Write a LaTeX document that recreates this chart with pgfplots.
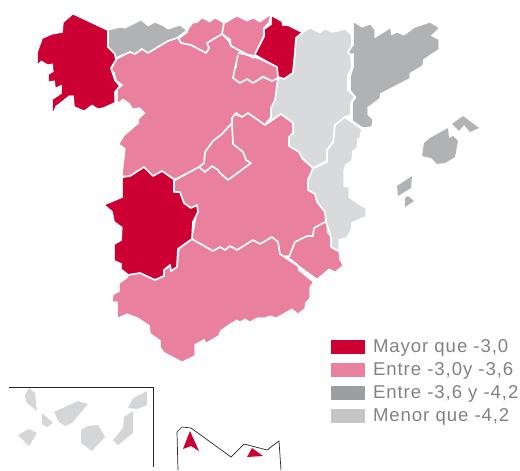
\documentclass[border=0pt]{standalone}
\usepackage{fontspec}
\setmainfont[LetterSpace=5]{Liberation Sans}
\usepackage{pgfplots}
\pgfplotsset{compat=1.18}
\definecolor{rojo}{HTML}{CC0033}
\definecolor{rosa}{HTML}{E8809E}
\definecolor{gris}{HTML}{B1B2B4}
\definecolor{claro}{HTML}{D9DADC}
\definecolor{isla}{HTML}{D5D6D8}
\definecolor{lgris}{HTML}{9D9EA0}
\definecolor{lclaro}{HTML}{C5C6C8}
\definecolor{texto}{HTML}{808285}
\tikzset{reg/.style={fill=#1,draw=#1,line width=0.5pt,line join=round},
  isl/.style={fill=#1,draw=none}}
\pgfplotsset{linde/.style={draw=white,line width=1.7pt,line join=round,forget plot}}
\begin{document}
\begin{tikzpicture}
\path[use as bounding box] (0,0) rectangle (520pt,471pt);
\begin{axis}[
  scale only axis, width=520pt, height=471pt,
  xmin=0, xmax=520, ymin=0, ymax=471, y dir=reverse,
  hide axis, clip=false,
  legend style={at={(axis cs:331,340)},anchor=north west,draw=none,fill=none,
    inner sep=0pt,outer sep=0pt,
    font=\fontsize{18.6}{20}\selectfont\color{texto},
    row sep=8.3pt,
    nodes={inner sep=0pt}},
  legend cell align=left,
  legend image code/.code={\fill[#1,draw=none] (0pt,-7pt) rectangle (34pt,7pt);},
]
% Galicia
\addplot[reg=rojo,forget plot] coordinates {(64,23)(73,15)(107,31)(108,48)(114,53)(115,60)(110,68)(115,82)(120,86)(114,92)(114,102)(103,107)(98,108)(92,104)(84,110)(75,106)(74,95)(69,95)(55,106)(53,111)(53,100)(62,94)(62,84)(56,87)(55,80)(49,81)(49,75)(54,72)(53,63)(48,64)(41,60)(38,63)(38,53)(43,39)(52,35)(63,33)} -- cycle;
% Asturias
\addplot[reg=gris,forget plot] coordinates {(108,31)(120,28)(125,29)(141,21)(148,27)(155,23)(162,26)(168,30)(180,26)(186,31)(177,37)(167,41)(148,53)(142,48)(135,54)(130,51)(117,57)(109,47)} -- cycle;
% Cantabria
\addplot[reg=rosa,forget plot] coordinates {(188,31)(193,24)(198,23)(202,19)(210,23)(215,19)(224,24)(222,33)(207,43)(210,48)(206,52)(193,45)(183,44)(180,39)(188,33)} -- cycle;
% Pais Vasco
\addplot[reg=rosa,forget plot] coordinates {(225,24)(237,17)(247,22)(253,19)(260,23)(270,16)(269,23)(263,28)(263,35)(260,43)(255,53)(253,59)(232,45)(231,39)(223,33)} -- cycle;
% La Rioja
\addplot[reg=rosa,forget plot] coordinates {(238,55)(254,58)(277,67)(278,78)(272,80)(263,75)(253,82)(247,78)(240,83)(233,78)(233,71)(237,68)} -- cycle;
% Castilla y Leon
\addplot[reg=rosa,forget plot] coordinates {(117,60)(130,53)(135,55)(142,50)(148,53)(168,42)(177,39)(180,43)(190,46)(207,53)(210,50)(207,43)(222,35)(229,42)(231,47)(253,60)(237,55)(235,68)(232,78)(238,83)(247,79)(253,83)(263,77)(272,81)(277,79)(276,97)(272,107)(272,118)(265,125)(248,113)(242,117)(236,113)(232,118)(232,123)(222,135)(213,142)(205,152)(203,163)(198,167)(175,178)(162,172)(153,177)(144,168)(130,177)(123,175)(126,148)(120,144)(125,136)(140,123)(139,120)(146,113)(140,107)(133,108)(130,103)(123,98)(118,102)(118,90)(124,85)(117,80)(115,72)(112,70)} -- cycle;
% Navarra
\addplot[reg=rojo,forget plot] coordinates {(272,17)(281,22)(282,26)(287,26)(301,33)(295,38)(294,53)(292,72)(284,78)(278,76)(277,66)(256,54)(261,45)(265,37)(265,30)(272,25)} -- cycle;
% Madrid
\addplot[reg=rosa,forget plot] coordinates {(231,123)(233,144)(243,152)(246,160)(251,163)(228,179)(220,173)(218,170)(212,165)(204,172)(200,168)(205,163)(206,152)(213,140)(222,133)} -- cycle;
% Castilla-La Mancha
\addplot[reg=rosa,forget plot] coordinates {(233,115)(242,118)(248,113)(265,125)(281,114)(294,123)(293,135)(290,138)(290,147)(300,153)(302,160)(312,168)(308,180)(308,190)(315,195)(317,202)(325,212)(326,223)(313,228)(312,236)(295,242)(290,255)(280,255)(278,242)(272,237)(260,244)(253,240)(237,250)(230,246)(225,249)(220,247)(213,251)(192,239)(195,228)(198,210)(197,205)(190,208)(185,203)(180,192)(174,192)(174,182)(198,167)(205,172)(212,166)(218,170)(221,175)(228,181)(251,164)(246,160)(243,152)(233,144)(232,123)} -- cycle;
% Extremadura
\addplot[reg=rojo,forget plot] coordinates {(123,178)(128,177)(144,168)(153,176)(162,172)(173,180)(173,192)(180,191)(184,203)(191,208)(197,205)(198,212)(193,222)(192,238)(178,248)(177,267)(171,271)(170,265)(163,270)(163,275)(155,279)(140,273)(128,274)(122,270)(122,263)(115,260)(115,245)(122,241)(123,227)(115,221)(113,211)(106,205)(111,203)(123,198)} -- cycle;
% Andalucia
\addplot[reg=rosa,forget plot] coordinates {(129,275)(140,273)(155,281)(164,276)(165,271)(170,267)(171,272)(178,267)(180,249)(192,240)(213,252)(220,248)(225,251)(230,247)(237,251)(253,241)(260,245)(272,237)(278,242)(280,254)(298,266)(299,270)(313,281)(309,287)(309,298)(305,302)(304,308)(298,313)(292,308)(276,317)(270,315)(265,317)(257,317)(250,321)(245,318)(240,321)(237,319)(230,323)(220,330)(218,335)(206,342)(205,338)(194,344)(194,355)(182,361)(165,352)(161,347)(161,340)(151,333)(150,325)(138,317)(127,313)(118,317)(118,301)(113,301)(114,295)(120,292)(120,284)(128,278)} -- cycle;
% Murcia
\addplot[reg=rosa,forget plot] coordinates {(289,257)(295,242)(307,236)(313,236)(314,228)(325,223)(329,235)(331,247)(338,251)(339,260)(342,265)(335,271)(329,268)(317,278)(299,265)(296,262)} -- cycle;
% Aragon
\addplot[reg=claro,forget plot] coordinates {(296,38)(310,29)(320,34)(325,30)(332,33)(338,32)(345,30)(352,37)(352,46)(348,52)(351,56)(352,68)(348,75)(348,90)(355,97)(351,103)(351,115)(345,117)(335,125)(333,142)(327,150)(327,160)(313,168)(302,158)(299,152)(289,146)(289,137)(293,133)(293,123)(281,114)(265,124)(271,116)(271,108)(275,100)(278,78)(284,79)(293,73)(295,53)} -- cycle;
% Cataluna
\addplot[reg=gris,forget plot] coordinates {(354,23)(362,28)(370,25)(374,30)(374,39)(390,29)(391,36)(397,33)(404,36)(415,28)(430,23)(438,28)(430,36)(438,40)(438,49)(423,59)(422,65)(409,73)(409,78)(380,93)(379,98)(367,107)(367,115)(372,120)(371,126)(363,127)(353,120)(353,103)(357,97)(351,90)(351,77)(354,68)(354,53)(349,53)(350,49)(354,46)} -- cycle;
% Comunidad Valenciana
\addplot[reg=claro,forget plot] coordinates {(345,118)(361,128)(359,138)(357,138)(356,148)(352,150)(351,160)(345,164)(343,170)(343,187)(348,188)(348,198)(365,209)(365,216)(351,222)(350,230)(346,237)(338,239)(338,250)(332,247)(331,237)(327,233)(326,212)(317,202)(315,193)(308,190)(308,179)(314,169)(328,163)(328,150)(334,142)(335,126)} -- cycle;
% lindes interiores en blanco
\addplot[linde] coordinates {(108,28)(108,47)(115,54)(116,60)(111,68)(115,80)(120,86)(115,92)(116,103)};
\addplot[linde] coordinates {(116,58)(130,52)(135,54)(142,49)(148,53)(168,41)(177,38)(188,30)};
\addplot[linde] coordinates {(178,37)(181,43)(191,45)(206,53)(209,48)(207,43)(222,34)(224,22)};
\addplot[linde] coordinates {(222,34)(229,41)(231,46)(254,58)};
\addplot[linde] coordinates {(271,15)(269,23)(264,28)(264,36)(260,44)(255,54)};
\addplot[linde] coordinates {(238,53)(255,56)(277,67)(278,77)(284,79)};
\addplot[linde] coordinates {(284,79)(293,73)(295,53)(296,38)(303,32)};
\addplot[linde] coordinates {(238,55)(235,68)(233,78)(240,83)(247,79)(253,83)(263,77)(272,81)(278,78)};
\addplot[linde] coordinates {(278,78)(275,100)(271,108)(271,118)(265,125)};
\addplot[linde] coordinates {(265,125)(248,113)(242,117)(236,113)(232,118)(232,123)};
\addplot[linde] coordinates {(232,123)(222,134)(213,141)(205,152)(204,163)(199,167)};
\addplot[linde] coordinates {(232,123)(233,144)(243,152)(246,160)(251,163)(228,180)(220,173)(218,170)(212,166)(205,172)(199,167)};
\addplot[linde] coordinates {(122,177)(130,176)(144,167)(153,176)(162,171)(175,180)(199,167)};
\addplot[linde] coordinates {(174,180)(174,192)(180,192)(184,203)(191,208)(197,205)(198,212)(193,222)(192,239)};
\addplot[linde] coordinates {(192,239)(178,249)(177,267)(171,271)(170,265)(164,270)(164,276)(155,280)(140,273)(128,275)(122,270)};
\addplot[linde] coordinates {(192,239)(213,251)(220,247)(225,250)(230,246)(237,250)(253,240)(260,244)(272,237)(278,242)(280,254)(298,266)(299,270)(314,282)};
\addplot[linde] coordinates {(289,257)(295,242)(307,236)(313,236)(314,228)(325,222)};
\addplot[linde] coordinates {(326,222)(325,212)(317,202)(315,194)(308,190)(308,180)(313,168)};
\addplot[linde] coordinates {(313,168)(302,158)(299,152)(289,146)(289,137)(293,133)(293,123)(281,114)(265,125)};
\addplot[linde] coordinates {(313,168)(327,161)(327,150)(333,142)(335,125)(345,117)};
\addplot[linde] coordinates {(352,29)(352,46)(348,52)(351,56)(352,68)(348,75)(348,90)(355,97)(351,103)(351,115)(345,117)(362,129)};
\addplot[linde] coordinates {(326,222)(331,237)(331,247)(338,251)};
% Baleares
\addplot[isl=gris,forget plot] coordinates {(448,128)(449,138)(453,136)(458,141)(455,157)(445,163)(437,164)(431,158)(422,156)(424,143)(430,138)} -- cycle;
\addplot[isl=gris,forget plot] coordinates {(452,124)(463,116)(479,128)(470,132)(464,125)(459,131)} -- cycle;
\addplot[isl=gris,forget plot] coordinates {(397,186)(412,176)(411,188)(398,196)} -- cycle;
\addplot[isl=gris,forget plot] coordinates {(405,198)(408,196)(414,201)(405,207)} -- cycle;
% Canarias
\addplot[black!85,line width=0.7pt,forget plot] coordinates {(9,387)(153,387)(153,467)};
\addplot[isl=isla,forget plot] coordinates {(25,395)(29,388)(35,393)(37,411)(26,402)} -- cycle;
\addplot[isl=isla,forget plot] coordinates {(42,413)(53,423)(47,427)(42,424)} -- cycle;
\addplot[isl=isla,forget plot] coordinates {(54,412)(67,406)(78,401)(88,404)(72,423)(65,426)(59,422)} -- cycle;
\addplot[isl=isla,forget plot] coordinates {(18,435)(29,429)(37,433)(29,446)} -- cycle;
\addplot[isl=isla,forget plot] coordinates {(81,430)(88,426)(98,425)(105,437)(100,442)(92,451)(81,443)} -- cycle;
\addplot[isl=isla,forget plot] coordinates {(124,417)(133,411)(133,433)(118,445)(113,440)(123,428)} -- cycle;
\addplot[isl=isla,forget plot] coordinates {(133,398)(147,391)(147,405)(137,409)(128,408)} -- cycle;
% Ceuta y Melilla
\addplot[black!85,line width=0.7pt,forget plot] coordinates {(178,470)(177,432)(182,427)(191,428)(231,457)(244,444)(267,450)(279,441)(281,470)};
\addplot[isl=rojo,forget plot] coordinates {(190,431)(199,451)(191,446)(183,449)} -- cycle;
\addplot[isl=rojo,forget plot] coordinates {(252,448)(263,456)(247,457)} -- cycle;
% leyenda
\addlegendimage{fill=rojo}
\addlegendentry{\hspace{8pt}Mayor que -3,0}
\addlegendimage{fill=rosa}
\addlegendentry{\hspace{8pt}Entre -3,0y -3,6}
\addlegendimage{fill=lgris}
\addlegendentry{\hspace{8pt}Entre -3,6 y -4,2}
\addlegendimage{fill=lclaro}
\addlegendentry{\hspace{8pt}Menor que -4,2}
\end{axis}
\end{tikzpicture}
\end{document}
